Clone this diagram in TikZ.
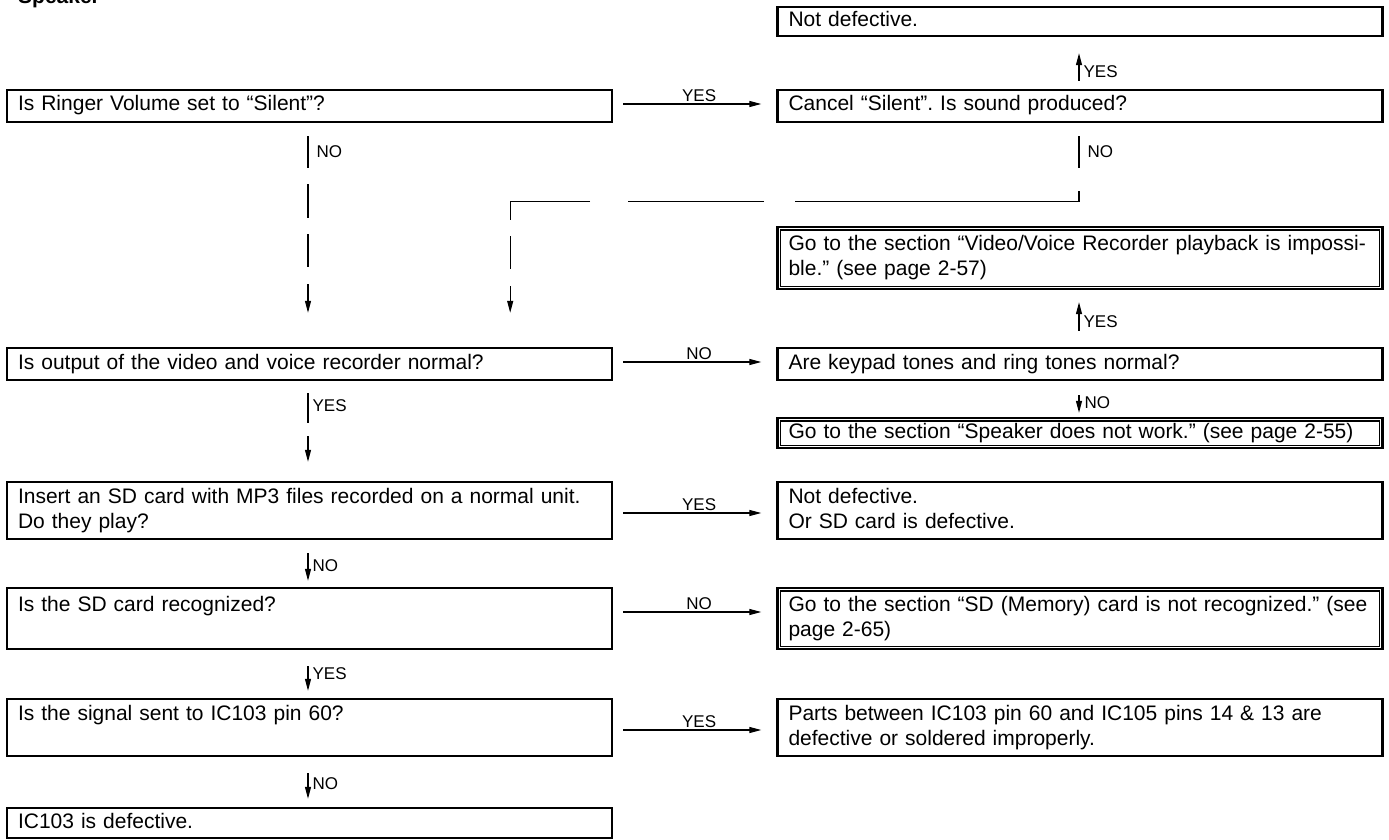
\documentclass[tikz,border=0pt]{standalone}
\usepackage{fontspec}
\setmainfont{Liberation Sans}
\usetikzlibrary{arrows.meta,calc}
\begin{document}
\frenchspacing
\begin{tikzpicture}[x=1pt,y=-1pt,
  box/.style={draw, line width=2.4pt, rectangle, minimum width=605pt, text width=583pt,
    inner xsep=11pt, inner ysep=0pt, align=left, font=\fontsize{21}{25}\selectfont\frenchspacing,
    execute at begin node=\strut, execute at end node=\strut},
  innerline/.style={line width=1.4pt},
  conn/.style={line width=1.2pt},
  arr/.style={conn, -{Triangle[length=12pt,width=6pt]}},
  lbl/.style={font=\fontsize{17}{20}\selectfont, inner sep=1pt},
]
\fill[white] (0,0) rectangle (1389,840);
\useasboundingbox (0,0) rectangle (1389,840);

\node[font=\bfseries\fontsize{21}{25}\selectfont, anchor=base west, inner sep=0pt] (title) at (18,4) {Speaker};

% boxes
\node[box, minimum height=29pt] (nd1) at (1080,21.5) {Not defective.};
\node[box, minimum height=32pt] (ringer) at (309.5,106) {Is Ringer Volume set to “Silent”?};
\node[box, minimum height=32pt] (cancel) at (1080,106) {Cancel “Silent”. Is sound produced?};
\node[box, minimum height=62pt] (video) at (1080,258) {Go to the section “Video/Voice Recorder playback is impossi-\\ble.” (see page 2-57)};
\node[box, minimum height=32pt] (output) at (309.5,364) {Is output of the video and voice recorder normal?};
\node[box, minimum height=32pt] (keypad) at (1080,364) {Are keypad tones and ring tones normal?};
\node[box, minimum height=30pt] (spk) at (1080,433) {Go to the section “Speaker does not work.” (see page 2-55)};
\node[box, minimum height=57pt] (mp3) at (309.5,510.5) {Insert an SD card with MP3 files recorded on a normal unit.\\Do they play?};
\node[box, minimum height=57pt] (nd2) at (1080,510.5) {Not defective.\\Or SD card is defective.};
\node[box, minimum height=61pt] (recog) at (309.5,618.5) {Is the SD card recognized?\\\mbox{}};
\node[box, minimum height=61pt] (sdgo) at (1080,618.5) {Go to the section “SD (Memory) card is not recognized.” (see\\page 2-65)};
\node[box, minimum height=57pt] (signal) at (309.5,727.5) {Is the signal sent to IC103 pin 60?\\\mbox{}};
\node[box, minimum height=57pt] (parts) at (1080,727.5) {Parts between IC103 pin 60 and IC105 pins 14 \& 13 are\\defective or soldered improperly.};
\node[box, minimum height=30pt] (ic) at (309.5,823) {IC103 is defective.};

% inner lines of the double boxes
\foreach \n in {video,spk,sdgo}{
  \draw[innerline] ([xshift=4pt,yshift=-4pt]\n.north west) rectangle ([xshift=-4pt,yshift=4pt]\n.south east);
}

% connectors
\draw[arr] ([xshift=10pt,yshift=2pt]ringer.east) -- node[lbl,above=1pt,pos=0.55]{YES} ([xshift=-15pt,yshift=2pt]cancel.west);
\draw[arr] ([xshift=-1pt,yshift=8pt]cancel.north) -- node[lbl,right=3pt,pos=0.33]{YES} ([xshift=-1pt,yshift=-16pt]nd1.south);

\draw[arr, dash pattern=on 32pt off 16pt on 34pt off 16pt on 33pt off 17pt on 40pt]
  ([xshift=-1.5pt,yshift=-13pt]ringer.south) -- node[lbl,right=7pt,pos=0.085]{NO}
  ($(ringer.south |- output.north)+(-1.5,-34)$);

\coordinate (h1) at ($(cancel.south)+(-1,78)$);
\coordinate (h2) at ($(h1 -| ringer.east)+(-103,0)$);
\draw[arr, dash pattern=on 32pt off 23pt on 294pt off 31pt on 136pt off 38pt on 99pt off 16pt on 33pt off 17pt on 40pt]
  ([xshift=-1pt,yshift=-13pt]cancel.south) -- node[lbl,right=7pt,pos=0.23]{NO} (h1) -- (h2)
  -- ($(h2 |- output.north)+(0,-34)$);

\draw[arr] ([xshift=10pt,yshift=2pt]output.east) -- node[lbl,above=1pt,pos=0.55]{NO} ([xshift=-15pt,yshift=2pt]keypad.west);
\draw[arr] ([xshift=-1pt,yshift=16pt]keypad.north) -- node[lbl,right=3pt,pos=0.33]{YES} ([xshift=-1pt,yshift=-12pt]video.south);
\draw[arr] ([xshift=-1pt,yshift=-14pt]keypad.south) -- node[lbl,right=4pt,pos=0.45]{NO} ([xshift=-1pt,yshift=4pt]spk.north);

\draw[arr, dash pattern=on 30pt off 13pt on 40pt]
  ([xshift=-1.5pt,yshift=-12pt]output.south) -- node[lbl,right=3pt,pos=0.18]{YES} ([xshift=-1.5pt,yshift=19pt]mp3.north);

\draw[arr] ([xshift=10pt,yshift=-2.5pt]mp3.east) -- node[lbl,above=1pt,pos=0.55]{YES} ([xshift=-15pt,yshift=-2.5pt]nd2.west);
\draw[arr] ([xshift=-1.5pt,yshift=-13pt]mp3.south) -- node[lbl,right=3pt,pos=0.45]{NO} ([xshift=-1.5pt,yshift=6pt]recog.north);

\draw[arr] ([xshift=10pt,yshift=6.5pt]recog.east) -- node[lbl,above=1pt,pos=0.55]{NO} ([xshift=-15pt,yshift=6.5pt]sdgo.west);
\draw[arr] ([xshift=-1.5pt,yshift=-16pt]recog.south) -- node[lbl,right=3pt,pos=0.3]{YES} ([xshift=-1.5pt,yshift=7pt]signal.north);

\draw[arr] ([xshift=10pt,yshift=-2.5pt]signal.east) -- node[lbl,above=1pt,pos=0.55]{YES} ([xshift=-15pt,yshift=-2.5pt]parts.west);
\draw[arr] ([xshift=-1.5pt,yshift=-16pt]signal.south) -- node[lbl,right=3pt,pos=0.4]{NO} ([xshift=-1.5pt,yshift=8pt]ic.north);
\end{tikzpicture}
\end{document}
